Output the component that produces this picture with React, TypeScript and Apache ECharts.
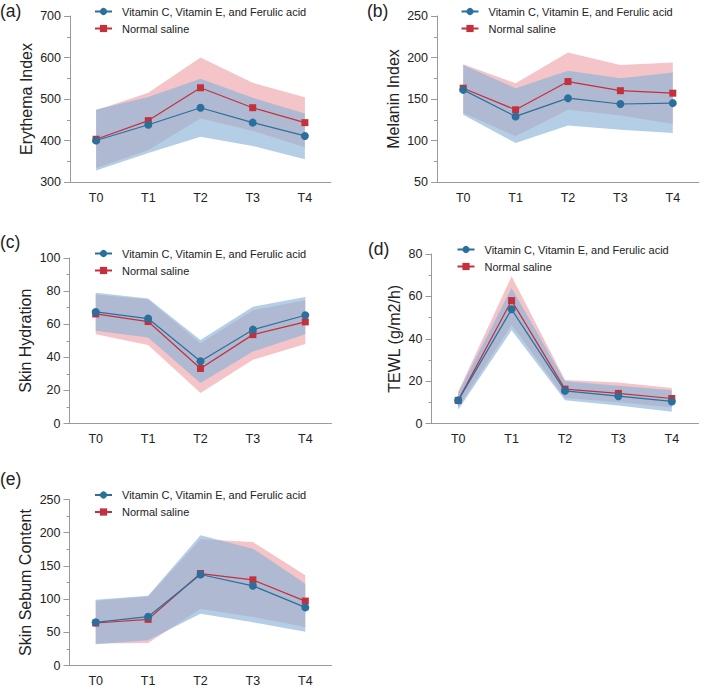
import React, { useEffect, useRef } from "react";
import * as echarts from "echarts";

// Time points shared by every panel
const categories = ["T0", "T1", "T2", "T3", "T4"];

const VIT_NAME = "Vitamin C, Vitamin E, and Ferulic acid";
const SAL_NAME = "Normal saline";

// (a) Erythema index: mean with lower / upper band limits
const erythemaVit = [400, 438, 479, 443, 411];
const erythemaVitLow = [328, 370, 409, 387, 355];
const erythemaVitHigh = [475, 505, 549, 503, 465];
const erythemaSal = [403, 448, 527, 479, 443];
const erythemaSalLow = [333, 377, 453, 423, 384];
const erythemaSalHigh = [473, 515, 600, 539, 504];

// (b) Melanin index
const melaninVit = [161, 129, 151, 144, 145];
const melaninVitLow = [131, 97, 118, 113, 109];
const melaninVitHigh = [191, 163, 184, 175, 182];
const melaninSal = [163, 137, 171, 160, 157];
const melaninSalLow = [133, 105, 137, 130, 120];
const melaninSalHigh = [192, 169, 206, 191, 194];

// (c) Skin hydration
const hydrationVit = [67.4, 63.4, 37.6, 56.7, 65.4];
const hydrationVitLow = [56, 52, 24.5, 43.5, 54];
const hydrationVitHigh = [79, 75.5, 50.5, 70.5, 76.5];
const hydrationSal = [66.2, 61.6, 33.2, 53.7, 61.4];
const hydrationSalLow = [54, 47.5, 18.5, 38.5, 48];
const hydrationSalHigh = [78, 75, 48.5, 68.5, 74.5];

// (d) Transepidermal water loss
const tewlVit = [10.9, 53.9, 15.4, 12.9, 10.4];
const tewlVitLow = [6.5, 44, 11, 8.5, 5.5];
const tewlVitHigh = [14.5, 64, 20, 17.8, 15.7];
const tewlSal = [10.9, 58, 16.2, 14.2, 11.8];
const tewlSalLow = [7.5, 46.5, 12, 10, 7.5];
const tewlSalHigh = [15, 69.5, 20.5, 19.4, 16.8];

// (e) Skin sebum content
const sebumVit = [65, 73.5, 137, 120, 87.5];
const sebumVitLow = [32, 38, 78, 65, 51];
const sebumVitHigh = [99, 105, 196, 176, 123];
const sebumSal = [64, 69.5, 138.5, 129, 97];
const sebumSalLow = [33, 34, 85, 73, 58];
const sebumSalHigh = [97.5, 104, 190, 186, 136];

const FONT = "'Liberation Sans', Arial, Helvetica, sans-serif";
const VIT_LINE = "#2b6f9c";
const SAL_LINE = "#c4303b";
const VIT_BAND = "rgba(140,180,215,0.65)";
const SAL_BAND = "rgba(225,100,110,0.38)";
const AXIS_GRAY = "#9a9a9a";
const TEXT = "#222";

type Panel = {
  tag: string;
  name: string;
  min: number;
  max: number;
  interval: number;
  vit: number[];
  vitLow: number[];
  vitHigh: number[];
  sal: number[];
  salLow: number[];
  salHigh: number[];
  grid: { left: number; top: number; width: number; height: number };
  legend: { left: number; top: number };
  label: { x: number; y: number };
  nameGap: number;
};

const panels: Panel[] = [
  {
    tag: "(a)", name: "Erythema Index", min: 300, max: 700, interval: 100,
    vit: erythemaVit, vitLow: erythemaVitLow, vitHigh: erythemaVitHigh,
    sal: erythemaSal, salLow: erythemaSalLow, salHigh: erythemaSalHigh,
    grid: { left: 70, top: 16, width: 261, height: 166 },
    legend: { left: 94, top: 6 }, label: { x: 0, y: 2 }, nameGap: 36,
  },
  {
    tag: "(b)", name: "Melanin Index", min: 50, max: 250, interval: 50,
    vit: melaninVit, vitLow: melaninVitLow, vitHigh: melaninVitHigh,
    sal: melaninSal, salLow: melaninSalLow, salHigh: melaninSalHigh,
    grid: { left: 437, top: 16, width: 262, height: 166 },
    legend: { left: 460.5, top: 6 }, label: { x: 367, y: 2 }, nameGap: 36,
  },
  {
    tag: "(c)", name: "Skin Hydration", min: 0, max: 100, interval: 20,
    vit: hydrationVit, vitLow: hydrationVitLow, vitHigh: hydrationVitHigh,
    sal: hydrationSal, salLow: hydrationSalLow, salHigh: hydrationSalHigh,
    grid: { left: 69.5, top: 258, width: 262, height: 165.5 },
    legend: { left: 94, top: 248 }, label: { x: 0, y: 233 }, nameGap: 36,
  },
  {
    tag: "(d)", name: "TEWL (g/m2/h)", min: 0, max: 80, interval: 20,
    vit: tewlVit, vitLow: tewlVitLow, vitHigh: tewlVitHigh,
    sal: tewlSal, salLow: tewlSalLow, salHigh: tewlSalHigh,
    grid: { left: 431.5, top: 254, width: 267, height: 169.5 },
    legend: { left: 456.5, top: 244 }, label: { x: 368, y: 240 }, nameGap: 29,
  },
  {
    tag: "(e)", name: "Skin Sebum Content", min: 0, max: 250, interval: 50,
    vit: sebumVit, vitLow: sebumVitLow, vitHigh: sebumVitHigh,
    sal: sebumSal, salLow: sebumSalLow, salHigh: sebumSalHigh,
    grid: { left: 69.5, top: 499.5, width: 262, height: 166 },
    legend: { left: 94, top: 489.5 }, label: { x: 0, y: 470 }, nameGap: 36,
  },
];

// A shaded band: invisible base at the lower limit plus a stacked filled range
function bandSeries(idx: number, key: string, low: number[], high: number[], color: string) {
  const stack = `band-${key}-${idx}`;
  const common = {
    type: "line" as const,
    xAxisIndex: idx,
    yAxisIndex: idx,
    stack,
    symbol: "none",
    silent: true,
    lineStyle: { width: 0, opacity: 0 },
  };
  return [
    { ...common, name: `${key}-low-${idx}`, data: low },
    {
      ...common,
      name: `${key}-range-${idx}`,
      data: high.map((h, i) => h - low[i]),
      areaStyle: { color, opacity: 1 },
    },
  ];
}

export default function App() {
  const ref = useRef<HTMLDivElement>(null);

  useEffect(() => {
    document.body.style.margin = "0";
    if (!ref.current) return;
    const chart = echarts.init(ref.current, null, { renderer: "svg" });

    const series: any[] = [];
    panels.forEach((p, i) => {
      series.push(...bandSeries(i, "sal", p.salLow, p.salHigh, SAL_BAND));
      series.push(...bandSeries(i, "vit", p.vitLow, p.vitHigh, VIT_BAND));
    });
    panels.forEach((p, i) => {
      series.push({
        type: "line",
        name: SAL_NAME,
        xAxisIndex: i,
        yAxisIndex: i,
        data: p.sal,
        symbol: "rect",
        symbolSize: 7,
        itemStyle: { color: SAL_LINE },
        lineStyle: { color: SAL_LINE, width: 1.2 },
        z: 3,
      });
      series.push({
        type: "line",
        name: VIT_NAME,
        xAxisIndex: i,
        yAxisIndex: i,
        data: p.vit,
        symbol: "circle",
        symbolSize: 8,
        itemStyle: { color: VIT_LINE },
        lineStyle: { color: VIT_LINE, width: 1.2 },
        z: 4,
      });
    });

    chart.setOption({
      animation: false,
      textStyle: { fontFamily: FONT },
      grid: panels.map((p) => ({ ...p.grid, containLabel: false })),
      xAxis: panels.map((p, i) => ({
        type: "category",
        gridIndex: i,
        data: categories,
        boundaryGap: true,
        axisLine: { lineStyle: { color: AXIS_GRAY, width: 1 } },
        axisTick: { alignWithLabel: true, length: 5, lineStyle: { color: AXIS_GRAY } },
        axisLabel: { color: TEXT, fontSize: 12.5, margin: 9, fontFamily: FONT },
        splitLine: { show: false },
      })),
      yAxis: panels.map((p, i) => ({
        type: "value",
        gridIndex: i,
        min: p.min,
        max: p.max,
        interval: p.interval,
        name: p.name,
        nameLocation: "middle",
        nameGap: p.nameGap,
        nameTextStyle: { color: TEXT, fontSize: 16, fontFamily: FONT },
        axisLine: { show: true, lineStyle: { color: AXIS_GRAY, width: 1 } },
        axisTick: { show: true, length: 6, lineStyle: { color: AXIS_GRAY } },
        minorTick: { show: true, splitNumber: 2, length: 3, lineStyle: { color: AXIS_GRAY } },
        axisLabel: { color: TEXT, fontSize: 12.5, margin: 9, fontFamily: FONT },
        splitLine: { show: false },
      })),
      legend: panels.map((p) => ({
        data: [VIT_NAME, SAL_NAME],
        orient: "vertical",
        left: p.legend.left,
        top: p.legend.top,
        itemWidth: 17,
        itemHeight: 9,
        itemGap: 6,
        padding: 0,
        selectedMode: false,
        textStyle: { color: TEXT, fontSize: 11, fontFamily: FONT, padding: [0, 0, 0, 5] },
      })),
      graphic: panels.map((p) => ({
        type: "text",
        left: p.label.x,
        top: p.label.y,
        style: { text: p.tag, fill: TEXT, fontSize: 17.5, fontFamily: FONT },
      })),
      series,
    });

    return () => chart.dispose();
  }, []);

  return <div ref={ref} style={{ width: 709, height: 690 }} />;
}
